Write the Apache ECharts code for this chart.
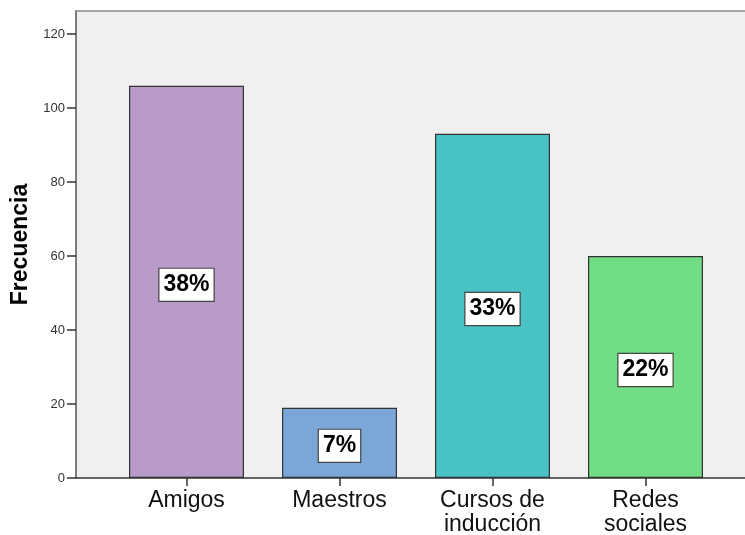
<!DOCTYPE html>
<html>
<head>
<meta charset="utf-8">
<script src="https://cdn.jsdelivr.net/npm/echarts@6/dist/echarts.min.js"></script>
<style>
html,body{margin:0;padding:0;background:#fff;}
#chart{width:745px;height:535px;}
</style>
</head>
<body>
<div id="chart"></div>
<script>
const categories = ["Amigos", "Maestros", "Cursos de\ninducción", "Redes\nsociales"];
const frequencies = [106, 19, 93, 60];
const percentLabels = ["38%", "7%", "33%", "22%"];
const barColors = ["#b89bc9", "#7aa7d8", "#49c2c6", "#71dd84"];
const yTicks = [0, 20, 40, 60, 80, 100, 120];
const yTitle = "Frecuencia";

const FONT = "'Liberation Sans', Arial, Helvetica, sans-serif";
const YMAX = 126.2;

const chart = echarts.init(document.getElementById('chart'), null, {renderer: 'canvas'});
chart.setOption({
  animation: false,
  backgroundColor: '#ffffff',
  grid: [
    {left: 76, top: 11, width: 680, height: 467, show: true, outerBoundsMode: 'none', containLabel: false,
     backgroundColor: '#f0f0f0', borderWidth: 0, borderColor: 'transparent'},
    {left: 110, top: 11, width: 612, height: 467, outerBoundsMode: 'none', containLabel: false}
  ],
  xAxis: [
    {gridIndex: 0, type: 'value', min: 0, max: 1, position: 'bottom',
     axisLine: {show: true, onZero: false, lineStyle: {color: '#333', width: 1.5}},
     axisTick: {show: false}, axisLabel: {show: false}, splitLine: {show: false}},
    {gridIndex: 1, type: 'category', data: categories,
     axisLine: {show: false},
     axisTick: {show: true, alignWithLabel: true, length: 8, lineStyle: {color: '#333', width: 1.5}},
     axisLabel: {fontFamily: FONT, fontSize: 23, color: '#111', margin: 11, lineHeight: 24, interval: 0},
     splitLine: {show: false}},
    {gridIndex: 0, type: 'value', min: 0, max: 1, position: 'top',
     axisLine: {show: true, onZero: false, lineStyle: {color: '#8a8a8a', width: 1.5}},
     axisTick: {show: false}, axisLabel: {show: false}, splitLine: {show: false}}
  ],
  yAxis: [
    {gridIndex: 0, type: 'value', min: 0, max: YMAX, interval: 20,
     name: yTitle, nameLocation: 'middle', nameGap: 44,
     nameTextStyle: {fontFamily: FONT, fontSize: 23, fontWeight: 'bold', color: '#000'},
     axisLine: {show: true, lineStyle: {color: '#555', width: 1.5}},
     axisTick: {show: true, length: 9, lineStyle: {color: '#333', width: 1.5}, customValues: yTicks},
     axisLabel: {fontFamily: FONT, fontSize: 13, color: '#333', margin: 11, customValues: yTicks},
     splitLine: {show: false}},
    {gridIndex: 1, type: 'value', min: 0, max: YMAX, show: false, splitLine: {show: false}}
  ],
  series: [{
    type: 'bar',
    xAxisIndex: 1, yAxisIndex: 1,
    barWidth: 115,
    data: frequencies.map((v, i) => ({
      value: v,
      itemStyle: {color: barColors[i], borderColor: '#333', borderWidth: 1.2}
    })),
    label: {
      show: true, position: 'inside', offset: [0, 3],
      formatter: p => percentLabels[p.dataIndex],
      fontFamily: FONT, fontSize: 23, fontWeight: 'bold', color: '#000',
      lineHeight: 23,
      backgroundColor: '#ffffff', borderColor: '#444', borderWidth: 1.2,
      padding: [5, 4, 4, 4]
    }
  }]
});
</script>
</body>
</html>
